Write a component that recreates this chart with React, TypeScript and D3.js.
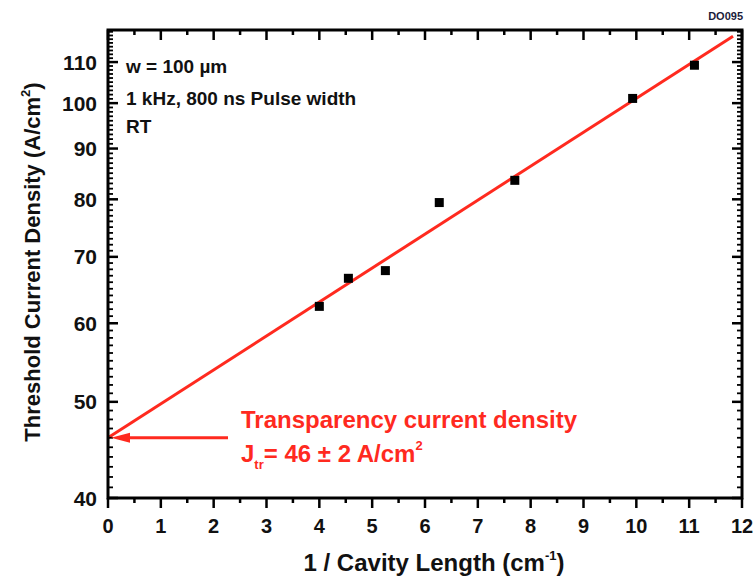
import React from "react";
import * as d3 from "d3";

// Measured threshold current density vs inverse cavity length
const invLength = [4.0, 4.55, 5.25, 6.27, 7.7, 9.93, 11.1];
const thresholdJ = [62.4, 66.6, 67.8, 79.4, 83.6, 101.1, 109.2];

// Linear fit of ln(J) vs 1/L, endpoints of the plotted fit
const fitX = [0, 11.83];
const fitJ = [46, 116.8];

const xTicks = [0, 1, 2, 3, 4, 5, 6, 7, 8, 9, 10, 11, 12];
const yTicks = [40, 50, 60, 70, 80, 90, 100, 110];

const W = 755;
const H = 579;
const M = { left: 108, right: 742, top: 30, bottom: 498 };
const FONT = "'Liberation Sans', Arial, Helvetica, sans-serif";
const RED = "#ff2a1f";

export default function App() {
  const x = d3.scaleLinear().domain([0, 12]).range([M.left, M.right]);
  const y = d3.scaleLog().domain([40, 118.5]).range([M.bottom, M.top]);

  const xMinor = d3.range(0.5, 12, 1);
  const yMinor = d3.range(41, 119, 1).filter((v) => v % 10 !== 0);

  const fitPts: [number, number][] = fitX.map((v, i) => [x(v), y(fitJ[i])]);
  const fitPath = d3.line()(fitPts) || "";

  const arrowY = y(fitJ[0]);
  const arrowTip = x(0) + 20;
  const arrowTail = 228;

  return (
    <svg
      width={W}
      height={H}
      style={{ position: "absolute", left: 0, top: 0, background: "#fff" }}
      fontFamily={FONT}
    >
      <rect x={0} y={0} width={W} height={H} fill="#fff" />

      {/* fit line */}
      <path d={fitPath} stroke={RED} strokeWidth={3} fill="none" />

      {/* data points */}
      {invLength.map((v, i) => (
        <rect
          key={i}
          x={x(v) - 4.5}
          y={y(thresholdJ[i]) - 4.5}
          width={9}
          height={9}
          fill="#000"
        />
      ))}

      {/* bottom axis ticks point outward, top axis ticks inward */}
      {xTicks.map((t) => (
        <g key={"xb" + t}>
          <line x1={x(t)} x2={x(t)} y1={M.bottom} y2={M.bottom + 10} stroke="#000" strokeWidth={2.5} />
          <line x1={x(t)} x2={x(t)} y1={M.top} y2={M.top + 10} stroke="#000" strokeWidth={2.5} />
          <text
            x={x(t)}
            y={533}
            textAnchor="middle"
            fontSize={20}
            fontWeight="bold"
            fill="#111"
          >
            {t}
          </text>
        </g>
      ))}
      {xMinor.map((t) => (
        <g key={"xm" + t}>
          <line x1={x(t)} x2={x(t)} y1={M.bottom} y2={M.bottom + 5} stroke="#000" strokeWidth={2.5} />
          <line x1={x(t)} x2={x(t)} y1={M.top} y2={M.top + 5} stroke="#000" strokeWidth={2.5} />
        </g>
      ))}

      {/* left and right axis ticks (inward) */}
      {yTicks.map((t) => (
        <g key={"yt" + t}>
          <line x1={M.left} x2={M.left + 10} y1={y(t)} y2={y(t)} stroke="#000" strokeWidth={2.5} />
          <line x1={M.right} x2={M.right - 10} y1={y(t)} y2={y(t)} stroke="#000" strokeWidth={2.5} />
          <text
            x={97}
            y={y(t) + 7.5}
            textAnchor="end"
            fontSize={21}
            fontWeight="bold"
            fill="#111"
          >
            {t}
          </text>
        </g>
      ))}
      {yMinor.map((t) => (
        <g key={"ym" + t}>
          <line x1={M.left} x2={M.left + 5} y1={y(t)} y2={y(t)} stroke="#000" strokeWidth={1.8} />
          <line x1={M.right} x2={M.right - 5} y1={y(t)} y2={y(t)} stroke="#000" strokeWidth={1.8} />
        </g>
      ))}

      {/* frame */}
      <rect
        x={M.left}
        y={M.top}
        width={M.right - M.left}
        height={M.bottom - M.top}
        fill="none"
        stroke="#000"
        strokeWidth={3}
      />

      {/* conditions */}
      <g fontSize={19} fontWeight="bold" fill="#111">
        <text x={126} y={73}>w = 100 µm</text>
        <text x={126} y={105}>1 kHz, 800 ns Pulse width</text>
        <text x={126} y={133}>RT</text>
      </g>

      {/* transparency annotation */}
      <line x1={arrowTail} x2={arrowTip} y1={arrowY} y2={arrowY} stroke={RED} strokeWidth={3} />
      <path
        d={`M${x(0) + 3},${arrowY} L${arrowTip + 2},${arrowY - 5} L${arrowTip + 2},${arrowY + 5} Z`}
        fill={RED}
      />
      <g fill={RED} fontWeight="bold">
        <text x={241} y={428} fontSize={24}>Transparency current density</text>
        <text x={241} y={462} fontSize={24}>
          J
          <tspan fontSize={13} dy={7}>tr</tspan>
          <tspan dy={-7}>= 46 ± 2 A/cm</tspan>
          <tspan fontSize={13} dy={-12}>2</tspan>
        </text>
      </g>

      {/* axis titles */}
      <text
        x={434}
        y={571}
        textAnchor="middle"
        fontSize={24}
        fontWeight="bold"
        fill="#111"
      >
        1 / Cavity Length (cm
        <tspan fontSize={13} dy={-11}>-1</tspan>
        <tspan dy={11}>)</tspan>
      </text>
      <text
        transform={`translate(40,262) rotate(-90)`}
        textAnchor="middle"
        fontSize={22}
        fontWeight="bold"
        fill="#111"
      >
        Threshold Current Density (A/cm
        <tspan fontSize={13} dy={-10}>2</tspan>
        <tspan dy={10}>)</tspan>
      </text>

      <text x={743} y={20} textAnchor="end" fontSize={11} fontWeight="bold" fill="#1c1c3a">
        DO095
      </text>
    </svg>
  );
}
